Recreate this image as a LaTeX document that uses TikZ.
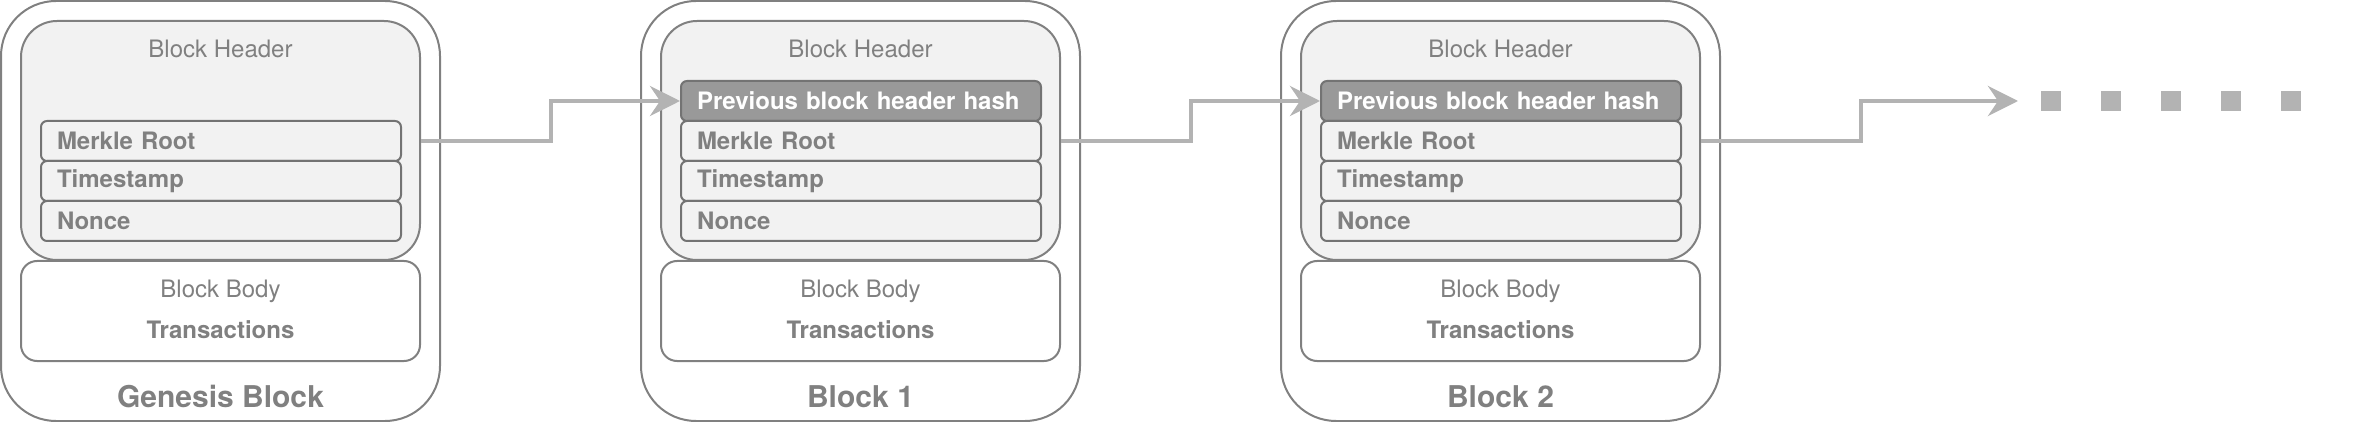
\documentclass[tikz,border=0pt]{standalone}
\usepackage{fontspec}
\setmainfont{TeX Gyre Heros}
\usepackage{xcolor}
\usepackage{tikz}
\usetikzlibrary{arrows.meta, positioning}

\definecolor{linegray}{HTML}{808080}
\definecolor{rowgray}{HTML}{737373}
\definecolor{txtgray}{HTML}{808080}
\definecolor{lightfill}{HTML}{F2F2F2}
\definecolor{darkfill}{HTML}{999999}
\definecolor{arrowgray}{HTML}{B3B3B3}

\begin{document}
\begin{tikzpicture}[x=1pt, y=-1pt,
    blockbox/.style={rectangle, rounded corners=55pt, draw=linegray, line width=2pt, minimum width=439pt, minimum height=420pt},
    headbox/.style={rectangle, rounded corners=36pt, draw=linegray, line width=2pt, fill=lightfill, minimum width=399pt, minimum height=239pt},
    bodybox/.style={rectangle, rounded corners=16pt, draw=linegray, line width=2pt, fill=white, minimum width=399pt, minimum height=100pt},
    fieldbox/.style={rectangle, rounded corners=6pt, draw=rowgray, line width=2pt, fill=lightfill, minimum height=40pt, text width=328pt, inner xsep=16pt, inner ysep=0pt, align=left, text=txtgray, font=\fontsize{24}{28}\selectfont\bfseries},
    hashbox/.style={fieldbox, fill=darkfill, text=white},
    captext/.style={anchor=base, text=txtgray, font=\fontsize{24}{28}\selectfont},
    boldtext/.style={captext, font=\fontsize{24}{28}\selectfont\bfseries},
    blocklabel/.style={anchor=base, text=txtgray, font=\fontsize{30}{36}\selectfont\bfseries},
    chain/.style={-{Stealth[length=30pt, width=30pt, inset=10pt]}, line width=4.5pt, draw=arrowgray}
]
\useasboundingbox (0,0) rectangle (2354,422);

% genesis block
\node[blockbox] (blk0) at (220.5,211) {};
\node[headbox] (hdr0) at (220.5,140.5) {};
\node[bodybox] (bdy0) at (220.5,311) {};
\node[captext] (hdrtxt0) at (220.5,58) {Block Header};
\node[fieldbox] (mrk0) at (221,141) {Merkle Root};
\node[fieldbox] (tms0) at (221,181) {Timestamp};
\node[fieldbox] (non0) at (221,221) {Nonce};
\node[captext] (bdytxt0) at (220.5,298) {Block Body};
\node[boldtext] (trx0) at (220.5,338) {Transactions};
\node[blocklabel] (lbl0) at (220.5,407) {Genesis Block};

% block 1
\node[blockbox] (blk1) at (860.5,211) {};
\node[headbox] (hdr1) at (860.5,140.5) {};
\node[bodybox] (bdy1) at (860.5,311) {};
\node[captext] (hdrtxt1) at (860.5,58) {Block Header};
\node[hashbox] (prv1) at (861,101) {Previous block header hash};
\node[fieldbox] (mrk1) at (861,141) {Merkle Root};
\node[fieldbox] (tms1) at (861,181) {Timestamp};
\node[fieldbox] (non1) at (861,221) {Nonce};
\node[captext] (bdytxt1) at (860.5,298) {Block Body};
\node[boldtext] (trx1) at (860.5,338) {Transactions};
\node[blocklabel] (lbl1) at (860.5,407) {Block 1};

% block 2
\node[blockbox] (blk2) at (1500.5,211) {};
\node[headbox] (hdr2) at (1500.5,140.5) {};
\node[bodybox] (bdy2) at (1500.5,311) {};
\node[captext] (hdrtxt2) at (1500.5,58) {Block Header};
\node[hashbox] (prv2) at (1501,101) {Previous block header hash};
\node[fieldbox] (mrk2) at (1501,141) {Merkle Root};
\node[fieldbox] (tms2) at (1501,181) {Timestamp};
\node[fieldbox] (non2) at (1501,221) {Nonce};
\node[captext] (bdytxt2) at (1500.5,298) {Block Body};
\node[boldtext] (trx2) at (1500.5,338) {Transactions};
\node[blocklabel] (lbl2) at (1500.5,407) {Block 2};

% links between headers
\draw[chain] (hdr0.east |- mrk0) -- ++(130,0) |- (prv1.west);
\draw[chain] (hdr1.east |- mrk1) -- ++(130,0) |- (prv2.west);

\coordinate (more) at (2018,101);
\draw[chain] (hdr2.east |- mrk2) -- ++(160,0) |- (more);

% and so on
\coordinate (dotA) at (2041,101);
\coordinate (dotB) at (2301,101);
\draw[arrowgray, line width=20pt, dash pattern=on 20pt off 40pt] (dotA) -- (dotB);
\end{tikzpicture}
\end{document}
